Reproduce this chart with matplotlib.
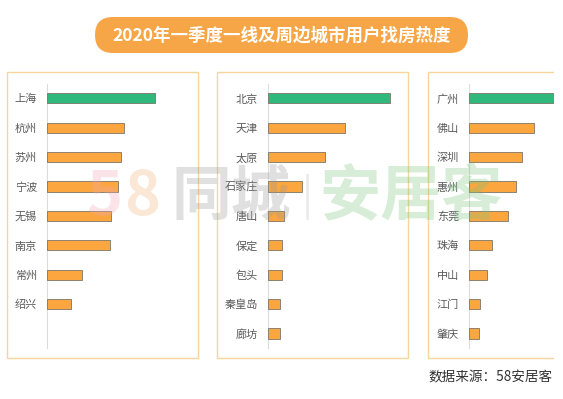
import matplotlib
matplotlib.use("Agg")
import matplotlib.pyplot as plt
from matplotlib.patches import FancyBboxPatch, Rectangle
from matplotlib.transforms import IdentityTransform

plt.rcParams['font.family'] = ['Noto Sans CJK SC', 'DejaVu Sans']

title = "2020年一季度一线及周边城市用户找房热度"
source = "数据来源：58安居客"

cities_sh = ["上海", "杭州", "苏州", "宁波", "无锡", "南京", "常州", "绍兴"]
heat_sh = [100, 71.4, 68.6, 65.6, 59.1, 58.4, 32.3, 22.4]

cities_bj = ["北京", "天津", "太原", "石家庄", "唐山", "保定", "包头", "秦皇岛", "廊坊"]
heat_bj = [100, 63.2, 47.2, 28.0, 13.3, 12.0, 11.4, 10.4, 9.8]

cities_gz = ["广州", "佛山", "深圳", "惠州", "东莞", "珠海", "中山", "江门", "肇庆"]
heat_gz = [100, 52.0, 42.4, 37.8, 31.7, 18.4, 14.4, 8.8, 8.0]

W, H = 563, 399
fig = plt.figure(figsize=(W / 100, H / 100), dpi=100)
fig.patch.set_facecolor("white")

GREEN = "#2EB87C"
ORANGE = "#FBA63F"
BOX = "#F5D69C"

def fx(px):
    return px / W

def fy(py):
    return 1 - py / H

top, bottom = 72, 358
row0, rowstep = 98.3, 29.4

panels = [
    (cities_sh, heat_sh, 7, 198, 46.7, 108.3),
    (cities_bj, heat_bj, 217, 408, 267.7, 122.3),
    (cities_gz, heat_gz, 428.3, 619.3, 468.7, 125.0),
]

for cities, vals, x0, x1, xax, pxper100 in panels:
    ax = fig.add_axes([fx(x0), fy(bottom), (x1 - x0) / W, (bottom - top) / H])
    ax.set_facecolor("none")
    upp = 100 / pxper100
    ax.set_xlim(-(xax - x0) * upp, (x1 - xax) * upp)
    ax.set_ylim((bottom - row0) / rowstep, (top - row0) / rowstep)
    colors = [GREEN] + [ORANGE] * (len(vals) - 1)
    ax.barh(range(len(vals)), vals, height=0.35, color=colors,
            edgecolor="#7d7566", linewidth=0.6, zorder=3)
    for s in ["top", "right", "bottom"]:
        ax.spines[s].set_visible(False)
    ax.spines["left"].set_position(("data", 0))
    ax.spines["left"].set_bounds(-0.5, 8.5)
    ax.spines["left"].set_color("#dcdcdc")
    ax.spines["left"].set_linewidth(0.8)
    ax.set_xticks([])
    ax.set_yticks(range(len(cities)))
    ax.set_yticklabels(cities, fontsize=8, color="#5a5a5a")
    ax.tick_params(axis="y", length=0, pad=7)
    fig.add_artist(Rectangle((fx(x0), fy(bottom)), (x1 - x0) / W, (bottom - top) / H,
                             transform=fig.transFigure, fill=False,
                             edgecolor=BOX, linewidth=1.0, zorder=1))

# title pill
pill = FancyBboxPatch((95, H - 53), 373, 36, boxstyle="round,pad=0,rounding_size=18",
                      transform=IdentityTransform(), facecolor="#F7A647",
                      edgecolor="none", zorder=5)
fig.add_artist(pill)
fig.text(fx(281.5), fy(35.5), title, ha="center", va="center", fontsize=12.6,
         fontweight="bold", color="white", zorder=6)

# watermark
wm_alpha = 0.3
fig.text(fx(86), fy(197), "5", ha="left", va="center", fontsize=44, fontweight="bold",
         color="#f0a8b8", alpha=wm_alpha, zorder=10)
fig.text(fx(124), fy(197), "8", ha="left", va="center", fontsize=44, fontweight="bold",
         color="#f2b27a", alpha=wm_alpha, zorder=10)
fig.text(fx(172), fy(197), "同城", ha="left", va="center", fontsize=43, fontweight="bold",
         color="#9a9a9a", alpha=wm_alpha, zorder=10)
fig.text(fx(307), fy(197), "|", ha="center", va="center", fontsize=30,
         color="#bbbbbb", alpha=wm_alpha, zorder=10)
fig.text(fx(319), fy(197), "安居客", ha="left", va="center", fontsize=44, fontweight="bold",
         color="#7cc47f", alpha=wm_alpha, zorder=10)

# source
fig.text(fx(428), fy(377), source, ha="left", va="center", fontsize=9.8,
         color="#333333", zorder=6)

# white strip on right edge
fig.add_artist(Rectangle((fx(554), 0), fx(W - 554) + 0.01, 1.01, transform=fig.transFigure,
                         facecolor="white", edgecolor="none", zorder=20))

fig.savefig("out.png", dpi=100, facecolor="white")
